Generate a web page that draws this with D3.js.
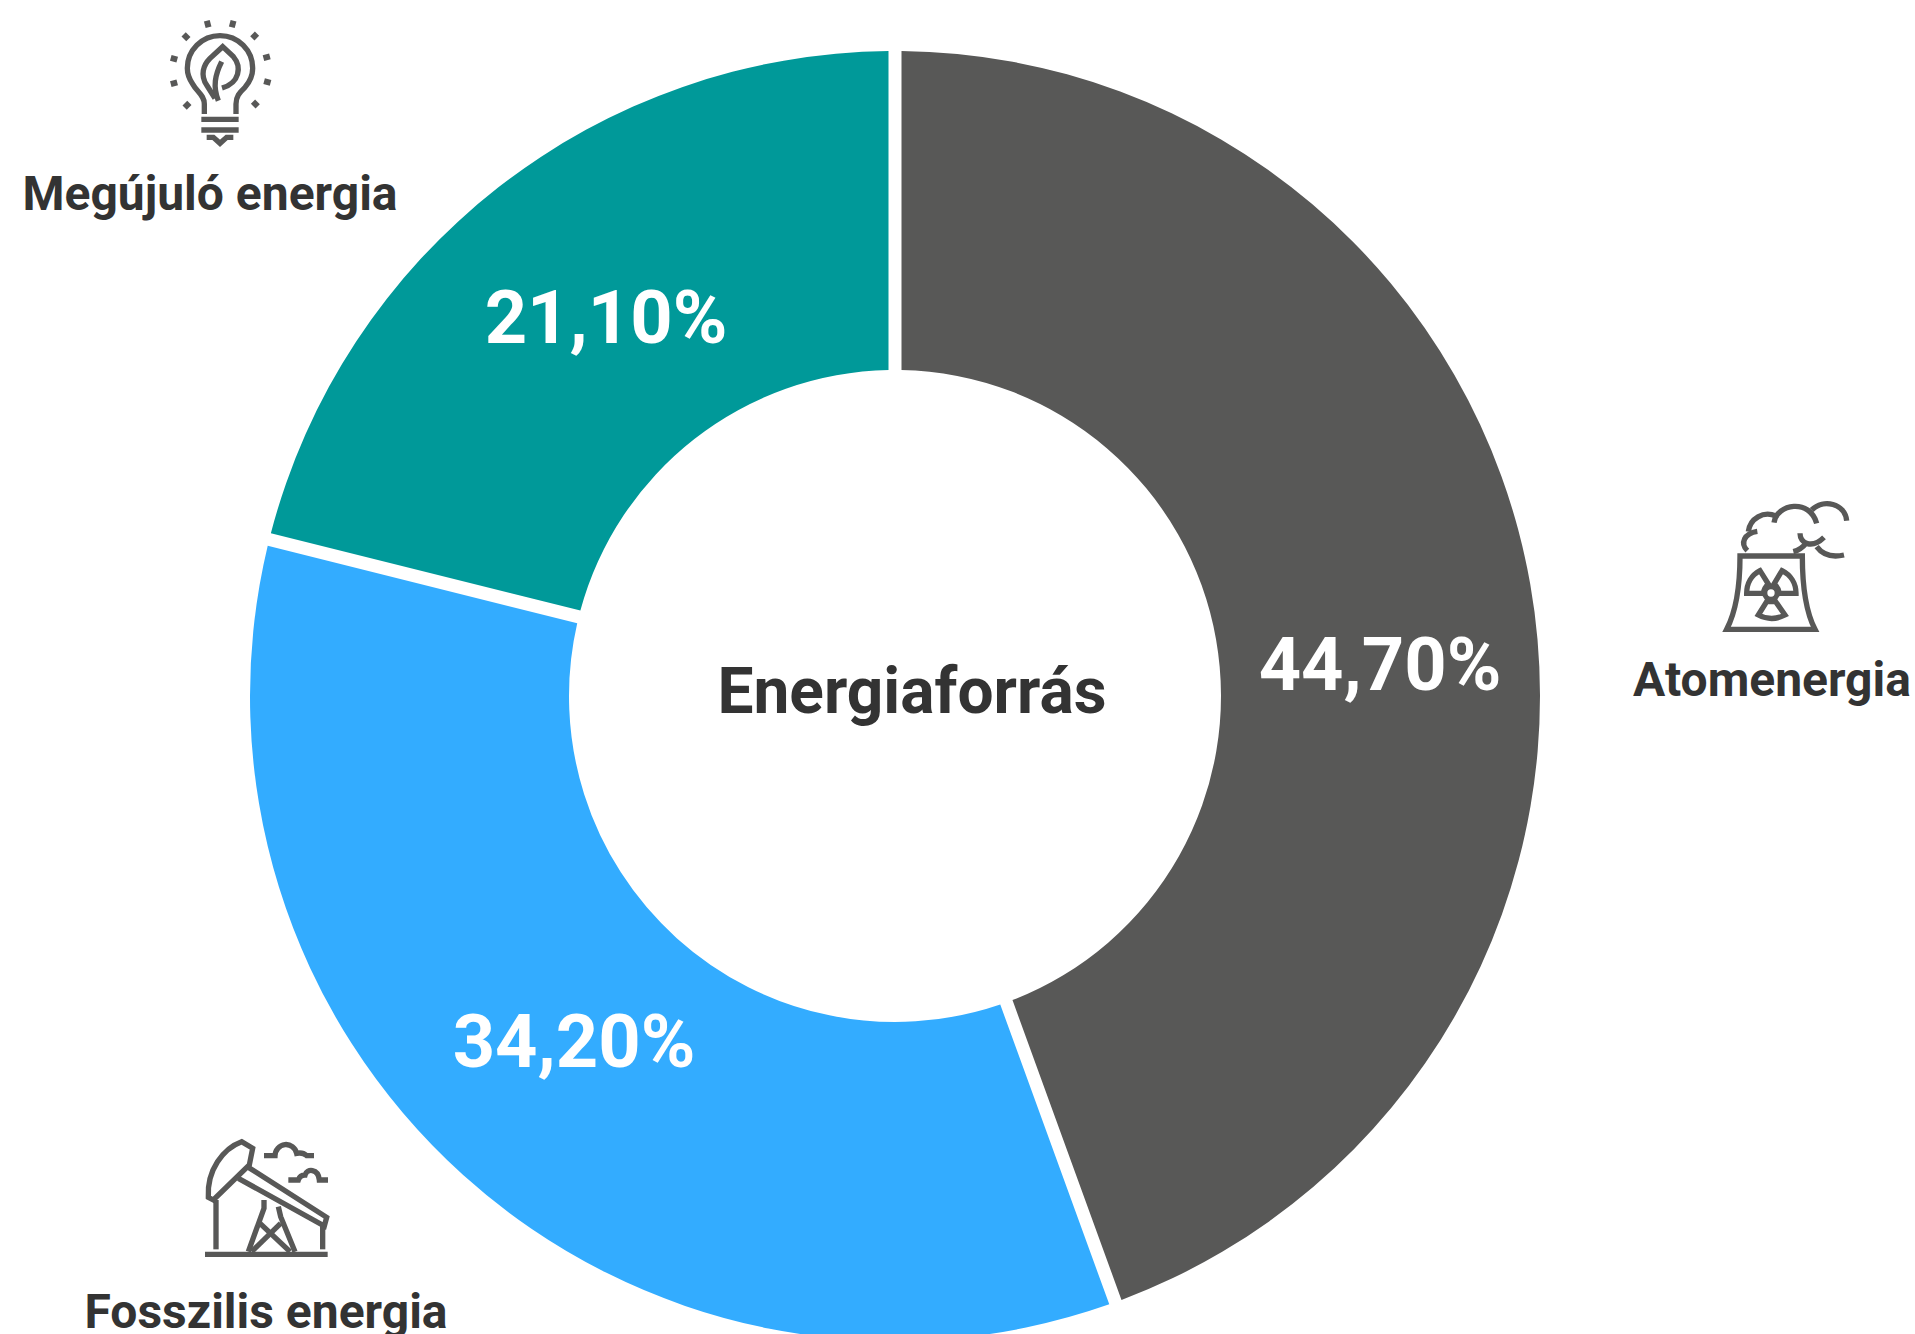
<!DOCTYPE html>
<html>
<head>
<meta charset="utf-8">
<script src="https://cdn.jsdelivr.net/npm/d3@7"></script>
<style>
  html, body { margin: 0; padding: 0; background: #fff; overflow: hidden; }
  text { font-family: Roboto, sans-serif; font-weight: 750; }
</style>
</head>
<body>
<div id="viz"></div>
<script>
// data
const categories = ['Atomenergia', 'Fosszilis energia', 'Megújuló energia'];
const shares = [44.7, 34.2, 21.1];
// the drawn slices are a little off the printed numbers, these are measured angles as %
const drawnShares = [44.45, 34.45, 21.1];
const centerTitle = 'Energiaforrás';

const colors = ['#585857', '#33acff', '#009999'];

const config = { width: 1915, height: 1334, cx: 895, cy: 696, outer: 645, inner: 326, gap: 13 };

// where the texts sit, same order as categories
const valuePos = [[1380, 690], [574, 1067], [606, 343]];
const namePos = [[1772, 696], [266, 1328], [210, 210]];

const svg = d3.select('#viz').append('svg')
  .attr('width', config.width)
  .attr('height', config.height)
  .attr('viewBox', `0 0 ${config.width} ${config.height}`);

const pie = d3.pie().sort(null).value(d => d);
const arc = d3.arc()
  .innerRadius(config.inner)
  .outerRadius(config.outer)
  .padRadius(config.outer)
  .padAngle(config.gap / config.outer);

const g = svg.append('g').attr('transform', `translate(${config.cx}, ${config.cy})`);

g.selectAll('path')
  .data(pie(drawnShares))
  .enter()
  .append('path')
  .attr('d', arc)
  .attr('fill', (d, i) => colors[i]);

// percent labels, comma decimal as in the original
svg.selectAll('.value')
  .data(shares)
  .enter()
  .append('text')
  .attr('class', 'value')
  .attr('x', (d, i) => valuePos[i][0])
  .attr('y', (d, i) => valuePos[i][1])
  .attr('text-anchor', 'middle')
  .attr('font-size', 74)
  .attr('fill', '#fff')
  .text(d => d.toFixed(2).replace('.', ',') + '%');

svg.selectAll('.name')
  .data(categories)
  .enter()
  .append('text')
  .attr('class', 'name')
  .attr('x', (d, i) => namePos[i][0])
  .attr('y', (d, i) => namePos[i][1])
  .attr('text-anchor', 'middle')
  .attr('font-size', 48)
  .attr('fill', '#333333')
  .text(d => d);

svg.append('text')
  .attr('x', 912)
  .attr('y', 713)
  .attr('text-anchor', 'middle')
  .attr('font-size', 64)
  .attr('fill', '#333333')
  .text(centerTitle);

// Icons, drawn at 3x and scaled down
function addIcon(x, y, paths) {
  const icon = svg.append('g')
    .attr('transform', `translate(${x}, ${y}) scale(${1 / 3})`)
    .attr('fill', 'none')
    .attr('stroke', '#585857')
    .attr('stroke-width', 16);
  paths.forEach(p => icon.append('path').attr('d', p));
  return icon;
}

const bulb = addIcon(150, 0, [
  'M163 342 V312 C163 285 140 275 128 252 C116 235 112 220 112 205 A98 98 0 0 1 308 205 C308 225 300 245 285 262 C268 278 258 290 258 312 V342',
  'M195 295 L170 255 C150 225 160 195 180 175 L218 140 L250 170 C275 200 270 248 216 264',
  'M205 302 C188 260 195 225 215 185',
  'M154 358 H266', 'M154 390 H266',
  'M170 412 H190 L210 430 L230 412 H250'
]);
// rays around the bulb
const rayPoints = [[173, 72, 75], [248, 72, 105], [108, 110, 45], [314, 108, 135], [72, 176, 15], [350, 172, 165], [72, 250, 165], [352, 246, 15], [111, 316, 135], [316, 312, 45]];
bulb.selectAll('.ray')
  .data(rayPoints)
  .enter()
  .append('rect')
  .attr('class', 'ray')
  .attr('x', -10).attr('y', -9).attr('width', 20).attr('height', 18)
  .attr('fill', '#585857').attr('stroke', 'none')
  .attr('transform', d => `translate(${d[0]}, ${d[1]}) rotate(${d[2]})`);

const plant = addIcon(1720, 490, [
  'M60 198 H247 C247 290 260 370 285 418 H20 C45 370 60 290 60 198 Z',
  'M82 182 C60 160 72 130 112 124',
  'M85 125 C90 85 130 62 168 78',
  'M162 98 C170 40 270 25 290 100',
  'M275 60 C310 25 375 40 380 92',
  'M240 130 C240 160 275 178 312 142',
  'M220 185 C240 180 250 170 258 160',
  'M290 170 C310 197 340 202 372 195',
  'M120 242 C95 255 80 280 80 310 H130 C132 297 138 288 145 282 Z',
  'M186 242 C212 255 228 280 228 310 H178 C176 297 170 288 162 282 Z',
  'M115 375 L140 335 H167 L195 375 C170 388 140 388 115 375 Z'
]);
plant.append('circle').attr('cx', 153).attr('cy', 309).attr('r', 19);

addIcon(190, 1120, [
  'M45 403 H413',
  'M70 240 L55 232 C50 150 100 85 155 65 L188 85 L178 135 Z',
  'M172 140 L410 292 L403 318 L145 175',
  'M78 240 V388', 'M398 318 V388',
  'M222 240 V265 L175 395', 'M265 260 L272 290 L315 395',
  'M210 310 L300 395', 'M272 310 L185 395',
  'M222 107 H255 A33 35 0 0 1 320 100 A28 20 0 0 1 350 107 H372',
  'M295 180 H325 C330 165 340 165 345 165 C350 145 385 145 388 180 H414'
]);
</script>
</body>
</html>
